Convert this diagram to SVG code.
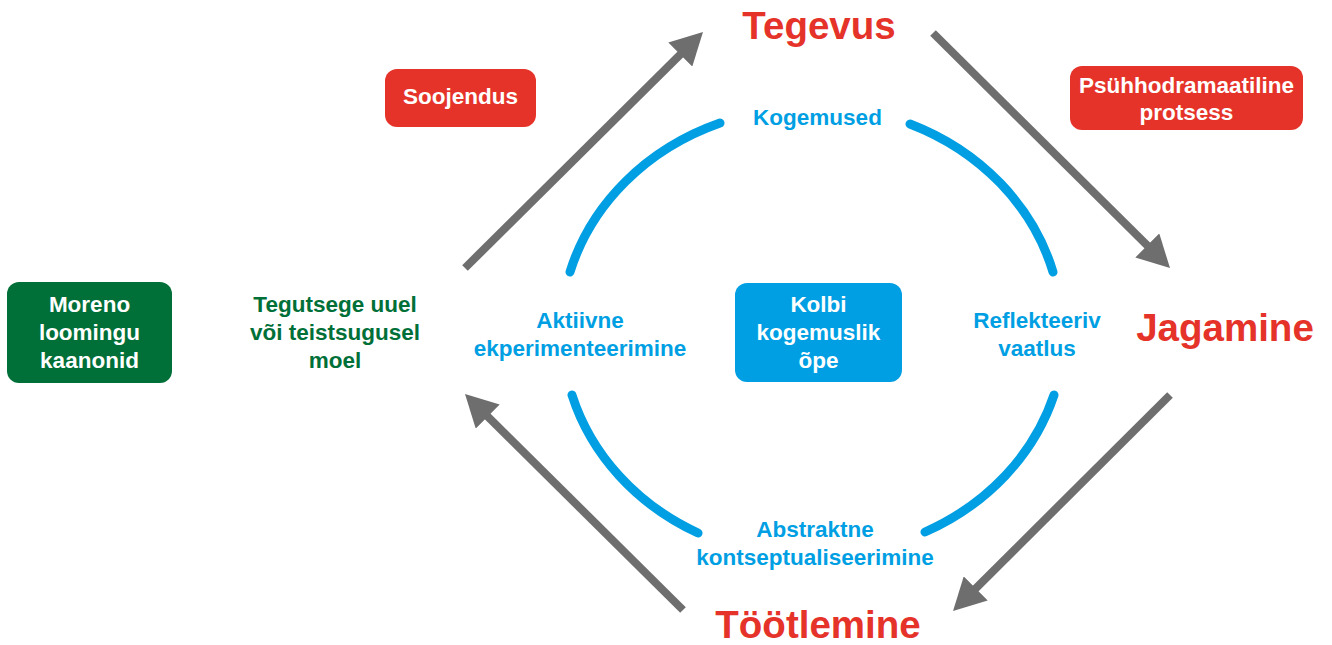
<svg xmlns="http://www.w3.org/2000/svg" width="1332" height="645" viewBox="0 0 1332 645">
  <style>
    text { font-family: "Liberation Sans", Arial, sans-serif; font-weight: bold; text-anchor: middle; }
    .title { font-size: 38.5px; fill: #e5332a; }
    .label { font-size: 22.5px; }
    .white { fill: #ffffff; }
    .blue { fill: #009fe3; }
    .green { fill: #006f38; }
    .flow { stroke: #6e6e6e; stroke-width: 8; fill: none; marker-end: url(#head); }
    .arc { stroke: #009fe3; stroke-width: 9; fill: none; stroke-linecap: round; }
  </style>
  <defs>
    <marker id="head" markerUnits="userSpaceOnUse" viewBox="0 -17 32 34" markerWidth="32" markerHeight="34" refX="2" refY="0" orient="auto">
      <path d="M0,-17 L32,0 L0,17 Z" fill="#6e6e6e"/>
    </marker>
  </defs>

  <rect width="1332" height="645" fill="#ffffff"/>

  <!-- outer cycle arrows and inner learning cycle arcs -->
  <g id="connectors">
    <line class="flow" x1="465" y1="268" x2="681.7" y2="53.1"/>
    <line class="flow" x1="933" y1="33" x2="1148.7" y2="246.9"/>
    <line class="flow" x1="1170" y1="395" x2="974.3" y2="589.8"/>
    <line class="flow" x1="683" y1="610" x2="486.3" y2="415.1"/>

    <path class="arc" d="M570,272 A250,225 0 0 1 720,123"/>
    <path class="arc" d="M910,124 A250,225 0 0 1 1053,272"/>
    <path class="arc" d="M1054,395 A250,225 0 0 1 925,532"/>
    <path class="arc" d="M698,533 A250,225 0 0 1 572,395"/>
  </g>

  <!-- stage titles -->
  <g id="tegevus"><text class="title" x="819" y="39">Tegevus</text></g>
  <g id="jagamine"><text class="title" x="1225" y="341">Jagamine</text></g>
  <g id="tootlemine"><text class="title" x="818" y="638">Töötlemine</text></g>

  <!-- red process boxes -->
  <g id="soojendus">
    <rect x="385" y="69" width="151" height="58" rx="12" fill="#e5332a"/>
    <text class="label white" x="460.5" y="104">Soojendus</text>
  </g>
  <g id="psuhhodramaatiline">
    <rect x="1070" y="66" width="233" height="64" rx="12" fill="#e5332a"/>
    <text class="label white" x="1186.5" y="93">Psühhodramaatiline</text>
    <text class="label white" x="1186.5" y="120">protsess</text>
  </g>

  <!-- left side -->
  <g id="moreno">
    <rect x="7" y="282" width="165" height="101" rx="12" fill="#006f38"/>
    <text class="label white" x="89.5" y="312">Moreno</text>
    <text class="label white" x="89.5" y="340">loomingu</text>
    <text class="label white" x="89.5" y="368">kaanonid</text>
  </g>
  <g id="tegutsege">
    <text class="label green" x="335" y="312">Tegutsege uuel</text>
    <text class="label green" x="335" y="340">või teistsugusel</text>
    <text class="label green" x="335" y="368">moel</text>
  </g>

  <!-- centre -->
  <g id="kolbi">
    <rect x="735" y="283" width="167" height="99" rx="12" fill="#009fe3"/>
    <text class="label white" x="818.5" y="312">Kolbi</text>
    <text class="label white" x="818.5" y="340">kogemuslik</text>
    <text class="label white" x="818.5" y="368">õpe</text>
  </g>

  <!-- learning cycle stage labels -->
  <g id="kogemused"><text class="label blue" x="817.5" y="125">Kogemused</text></g>
  <g id="reflekteeriv">
    <text class="label blue" x="1037" y="328">Reflekteeriv</text>
    <text class="label blue" x="1037" y="356">vaatlus</text>
  </g>
  <g id="abstraktne">
    <text class="label blue" x="815" y="537">Abstraktne</text>
    <text class="label blue" x="815" y="565">kontseptualiseerimine</text>
  </g>
  <g id="aktiivne">
    <text class="label blue" x="580" y="328">Aktiivne</text>
    <text class="label blue" x="580" y="356">ekperimenteerimine</text>
  </g>
</svg>
